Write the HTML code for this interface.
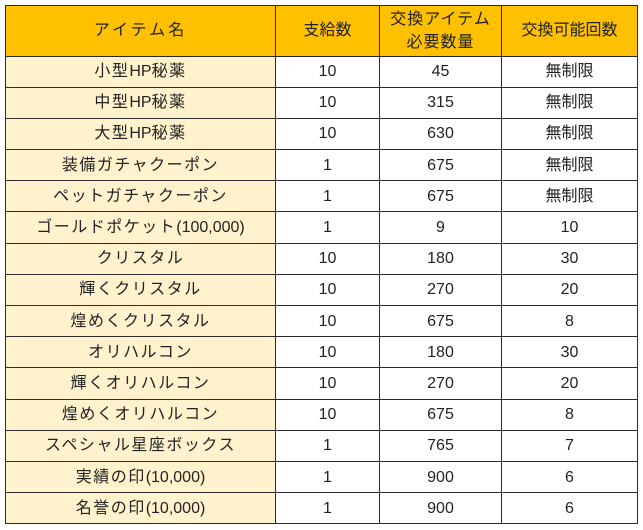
<!DOCTYPE html>
<html><head><meta charset="utf-8"><style>
html,body{margin:0;padding:0;background:#fff;width:643px;height:530px;overflow:hidden}
table{position:absolute;left:5px;top:5px;border-collapse:collapse;font-family:"Liberation Sans","Noto Sans CJK JP",sans-serif;font-size:16px;color:#222}
td{border:1.5px solid #2a2a2a;text-align:center;padding:0;height:30.2px;line-height:17px}
tr.h td{background:#FFC000;height:49.5px;line-height:23px}
td.n{background:#FFF2CC;letter-spacing:1.5px}
td.n span{letter-spacing:0}
</style></head><body>
<table>
<colgroup><col style="width:270px"><col style="width:104px"><col style="width:122px"><col style="width:136px"></colgroup>
<tr class="h"><td style="letter-spacing:3px">アイテム名</td><td>支給数</td><td style="letter-spacing:1px">交換アイテム<br>必要数量</td><td>交換可能回数</td></tr>
<tr><td class="n">小型<span>HP</span>秘薬</td><td>10</td><td>45</td><td>無制限</td></tr>
<tr><td class="n">中型<span>HP</span>秘薬</td><td>10</td><td>315</td><td>無制限</td></tr>
<tr><td class="n">大型<span>HP</span>秘薬</td><td>10</td><td>630</td><td>無制限</td></tr>
<tr><td class="n">装備ガチャクーポン</td><td>1</td><td>675</td><td>無制限</td></tr>
<tr><td class="n">ペットガチャクーポン</td><td>1</td><td>675</td><td>無制限</td></tr>
<tr><td class="n">ゴールドポケット<span>(100,000)</span></td><td>1</td><td>9</td><td>10</td></tr>
<tr><td class="n">クリスタル</td><td>10</td><td>180</td><td>30</td></tr>
<tr><td class="n">輝くクリスタル</td><td>10</td><td>270</td><td>20</td></tr>
<tr><td class="n">煌めくクリスタル</td><td>10</td><td>675</td><td>8</td></tr>
<tr><td class="n">オリハルコン</td><td>10</td><td>180</td><td>30</td></tr>
<tr><td class="n">輝くオリハルコン</td><td>10</td><td>270</td><td>20</td></tr>
<tr><td class="n">煌めくオリハルコン</td><td>10</td><td>675</td><td>8</td></tr>
<tr><td class="n">スペシャル星座ボックス</td><td>1</td><td>765</td><td>7</td></tr>
<tr><td class="n">実績の印<span>(10,000)</span></td><td>1</td><td>900</td><td>6</td></tr>
<tr><td class="n">名誉の印<span>(10,000)</span></td><td>1</td><td>900</td><td>6</td></tr>
</table>
</body></html>
